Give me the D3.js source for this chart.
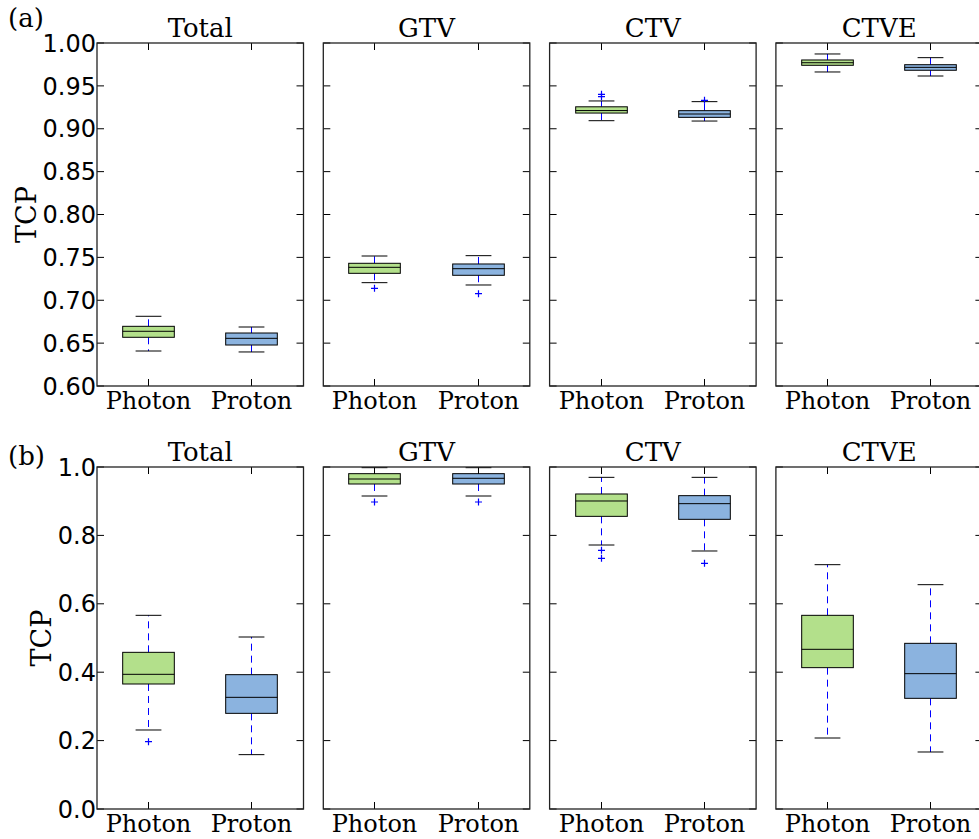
<!DOCTYPE html>
<html>
<head>
<meta charset="utf-8">
<script src="https://cdn.jsdelivr.net/npm/d3@7"></script>
<style>
  html, body { margin: 0; padding: 0; background: #fff; }
  svg { display: block; }
</style>
</head>
<body>
<svg id="chart" width="979" height="839"></svg>
<script>
// ---------------- DATA ----------------
const groups = ["Total", "GTV", "CTV", "CTVE"];
const modalities = ["Photon", "Proton"];
const rowLabels = ["(a)", "(b)"];

// each box: [lower whisker, Q1, median, Q3, upper whisker]
// row (a)
const aPhotonStats = [
  [0.6408, 0.6568, 0.6638, 0.6696, 0.6813],
  [0.7205, 0.7314, 0.7384, 0.7431, 0.7516],
  [0.9094, 0.9183, 0.9212, 0.9256, 0.9324],
  [0.9662, 0.9740, 0.9770, 0.9802, 0.9872]
];
const aProtonStats = [
  [0.6397, 0.6478, 0.6556, 0.6618, 0.6688],
  [0.7178, 0.7291, 0.7368, 0.7423, 0.7520],
  [0.9090, 0.9133, 0.9172, 0.9211, 0.9316],
  [0.9615, 0.9682, 0.9716, 0.9747, 0.9829]
];
const aPhotonFliers = [[], [0.7139], [0.9402, 0.9374], []];
const aProtonFliers = [[], [0.7077], [0.9331], []];

// row (b)
const bPhotonStats = [
  [0.2310, 0.3655, 0.3938, 0.4581, 0.5663],
  [0.9152, 0.9503, 0.9649, 0.9805, 0.9980],
  [0.7719, 0.8557, 0.9006, 0.9211, 0.9698],
  [0.2076, 0.4133, 0.4669, 0.5663, 0.7144]
];
const bProtonStats = [
  [0.1589, 0.2797, 0.3265, 0.3928, 0.5029],
  [0.9152, 0.9503, 0.9670, 0.9805, 0.9980],
  [0.7544, 0.8470, 0.8928, 0.9162, 0.9698],
  [0.1667, 0.3236, 0.3957, 0.4844, 0.6559]
];
const bPhotonFliers = [[0.1968], [0.8977], [0.7563, 0.7330], []];
const bProtonFliers = [[], [0.8977], [0.7183], []];

const aYTicks = [0.60, 0.65, 0.70, 0.75, 0.80, 0.85, 0.90, 0.95, 1.00];
const aYTickLabels = ["0.60", "0.65", "0.70", "0.75", "0.80", "0.85", "0.90", "0.95", "1.00"];
const bYTicks = [0.0, 0.2, 0.4, 0.6, 0.8, 1.0];
const bYTickLabels = ["0.0", "0.2", "0.4", "0.6", "0.8", "1.0"];
const aYDomain = [0.60, 1.00];
const bYDomain = [0.0, 1.0];

// ---------------- LAYOUT ----------------
const svg = d3.select("#chart");
const colors = { Photon: "#b3e08b", Proton: "#8bb3df" };
const serif = "'DejaVu Serif', serif";
const sans = "'DejaVu Sans', sans-serif";

const panelLeft0 = 97, panelStep = 226.3, panelW = 206.5;
const rows = [
  { top: 43, bottom: 386, domain: aYDomain, ticks: aYTicks, tickLabels: aYTickLabels,
    stats: [aPhotonStats, aProtonStats], fliers: [aPhotonFliers, aProtonFliers], label: rowLabels[0],
    labelY: 27 },
  { top: 467, bottom: 809, domain: bYDomain, ticks: bYTicks, tickLabels: bYTickLabels,
    stats: [bPhotonStats, bProtonStats], fliers: [bPhotonFliers, bProtonFliers], label: rowLabels[1],
    labelY: 465 }
];

const crisp = v => Math.round(v - 0.5) + 0.5;

rows.forEach((row, ri) => {
  const y = d3.scaleLinear().domain(row.domain).range([row.bottom, row.top]);

  svg.append("text")
    .attr("x", 8).attr("y", row.labelY)
    .attr("font-family", serif).attr("font-size", 26)
    .text(row.label);

  groups.forEach((g, gi) => {
    const left = panelLeft0 + gi * panelStep;
    const x = d3.scaleLinear().domain([0.5, 2.5]).range([left, left + panelW]);
    const unit = x(1) - x(0);
    const pg = svg.append("g");

    // title
    pg.append("text")
      .attr("x", left + panelW / 2).attr("y", row.top - 6)
      .attr("text-anchor", "middle")
      .attr("font-family", serif).attr("font-size", 26)
      .text(g);

    modalities.forEach((m, mi) => {
      const s = row.stats[mi][gi];
      const cx = crisp(x(mi + 1));
      const bw = 0.5 * unit, cw = 0.25 * unit;
      const bg = pg.append("g");
      // whiskers (blue dashed)
      bg.append("line")
        .attr("x1", cx).attr("x2", cx).attr("y1", y(s[3])).attr("y2", y(s[4]))
        .attr("stroke", "#0000ff").attr("stroke-width", 1).attr("stroke-dasharray", "7,5");
      bg.append("line")
        .attr("x1", cx).attr("x2", cx).attr("y1", y(s[1])).attr("y2", y(s[0]))
        .attr("stroke", "#0000ff").attr("stroke-width", 1).attr("stroke-dasharray", "7,5");
      // caps
      [s[0], s[4]].forEach(v => {
        bg.append("line")
          .attr("x1", cx - cw / 2).attr("x2", cx + cw / 2)
          .attr("y1", y(v)).attr("y2", y(v))
          .attr("stroke", "#000").attr("stroke-width", 1);
      });
      // box
      bg.append("rect")
        .attr("x", cx - bw / 2).attr("width", bw)
        .attr("y", y(s[3])).attr("height", y(s[1]) - y(s[3]))
        .attr("fill", colors[m]).attr("stroke", "#000").attr("stroke-width", 1);
      // median
      bg.append("line")
        .attr("x1", cx - bw / 2).attr("x2", cx + bw / 2)
        .attr("y1", y(s[2])).attr("y2", y(s[2]))
        .attr("stroke", "#000").attr("stroke-width", 1);
      // fliers
      row.fliers[mi][gi].forEach(v => {
        const fy = y(v);
        bg.append("path")
          .attr("d", `M${cx - 3.5},${fy}H${cx + 3.5}M${cx},${fy - 3.5}V${fy + 3.5}`)
          .attr("stroke", "#0000ff").attr("stroke-width", 1.2).attr("fill", "none");
      });
    });

    // ticks (inward, all four sides)
    const tl = 7;
    row.ticks.forEach(t => {
      const ty = y(t);
      pg.append("line").attr("x1", left).attr("x2", left + tl).attr("y1", ty).attr("y2", ty)
        .attr("stroke", "#000").attr("stroke-width", 1);
      pg.append("line").attr("x1", left + panelW - tl).attr("x2", left + panelW).attr("y1", ty).attr("y2", ty)
        .attr("stroke", "#000").attr("stroke-width", 1);
    });
    modalities.forEach((m, mi) => {
      const tx = crisp(x(mi + 1));
      pg.append("line").attr("x1", tx).attr("x2", tx).attr("y1", row.bottom).attr("y2", row.bottom - tl)
        .attr("stroke", "#000").attr("stroke-width", 1);
      pg.append("line").attr("x1", tx).attr("x2", tx).attr("y1", row.top).attr("y2", row.top + tl)
        .attr("stroke", "#000").attr("stroke-width", 1);
      pg.append("text")
        .attr("x", tx).attr("y", row.bottom + 23)
        .attr("text-anchor", "middle")
        .attr("font-family", serif).attr("font-size", 24)
        .text(m);
    });

    // frame
    pg.append("rect")
      .attr("x", left).attr("y", row.top)
      .attr("width", panelW).attr("height", row.bottom - row.top)
      .attr("fill", "none").attr("stroke", "#222").attr("stroke-width", 1.3);

    // y axis labels only on first panel
    if (gi === 0) {
      row.ticks.forEach((t, ti) => {
        pg.append("text")
          .attr("x", left - 1).attr("y", y(t))
          .attr("dy", "0.36em")
          .attr("text-anchor", "end")
          .attr("font-family", sans).attr("font-size", 24)
          .text(row.tickLabels[ti]);
      });
      const cy = (row.top + row.bottom) / 2;
      const bx = ri === 0 ? 36 : 51;
      pg.append("text")
        .attr("transform", `translate(${bx},${cy}) rotate(-90)`)
        .attr("text-anchor", "middle")
        .attr("font-family", serif).attr("font-size", 27)
        .text("TCP");
    }
  });
});
</script>
</body>
</html>
